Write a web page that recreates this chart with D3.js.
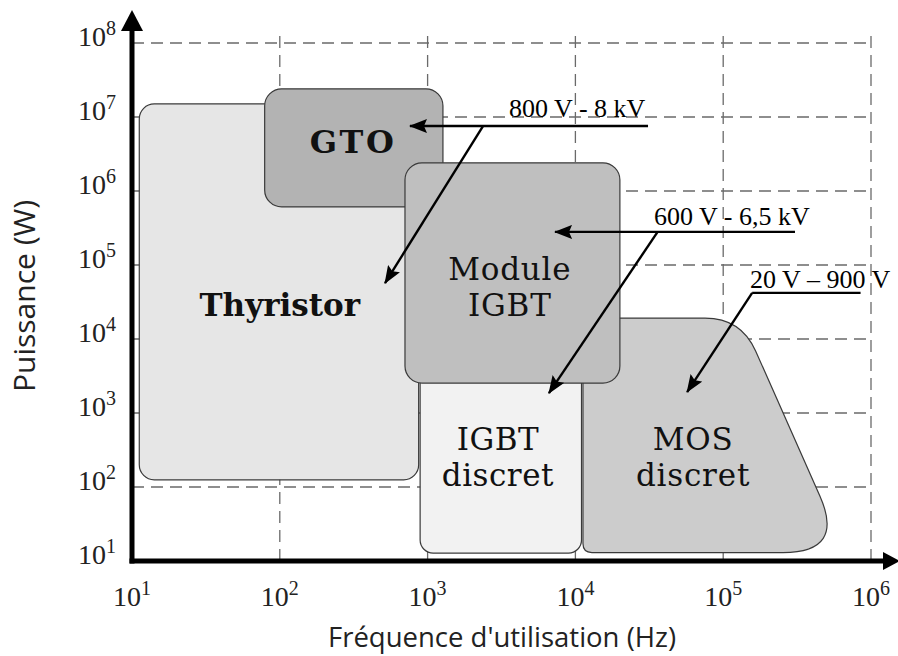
<!DOCTYPE html>
<html>
<head>
<meta charset="utf-8">
<script src="https://cdn.jsdelivr.net/npm/d3@7"></script>
<style>
  body { margin: 0; background: #fff; }
  svg { display: block; }
</style>
</head>
<body>
<svg id="chart"></svg>
<script>
/*
		 GLOBAL LAYOUT CONSTANTS
*/
var width = 898;
var height = 656;
var margin = {top: 43, right: 27, bottom: 95, left: 132};

var w = width - margin.left - margin.right;
var h = height - margin.top - margin.bottom;

/*
		 DATA
		 frequency in Hz, power in W
*/
var freqTicks = [1e1, 1e2, 1e3, 1e4, 1e5, 1e6];
var freqExp = ["1", "2", "3", "4", "5", "6"];
var powTicks = [1e1, 1e2, 1e3, 1e4, 1e5, 1e6, 1e7, 1e8];
var powExp = ["1", "2", "3", "4", "5", "6", "7", "8"];

// rounded boxes (Thyristor, GTO, IGBT discret, Module IGBT)
var boxNames = ["Thyristor", "GTO", "IGBT discret", "Module IGBT"];
var boxFreqLo = [11.2, 79, 890, 703];
var boxFreqHi = [870, 1270, 11000, 20000];
var boxPowLo = [125, 6.1e5, 12.8, 2540];
var boxPowHi = [1.5e7, 2.4e7, 4000, 2.4e6];

// MOS discret outline (corners)
var mosFreq = [11250, 132000, 667000, 11250];
var mosPow = [19200, 19200, 13, 13];

// region labels
var regionLines = [["Thyristor"], ["GTO"], ["IGBT", "discret"], ["Module", "IGBT"], ["MOS", "discret"]];
var regionLabelFreq = [100, 313, 2990, 3600, 62500];
var regionLabelPow = [2.05e4, 3.3e6, 320, 6.2e4, 320];

// voltage annotations
var voltLabels = ["800 V - 8 kV", "600 V - 6,5 kV", "20 V \u2013 900 V"];
var voltFreq = [3560, 34000, 152000];
var voltPow = [1e7, 3.5e5, 4.9e4];

// leader lines: start -> end (arrow head at end)
var leadFreq0 = [31000, 2370, 306000, 36000, 850000, 157000];
var leadPow0 = [7.55e6, 7.55e6, 2.8e5, 2.8e5, 4.2e4, 4.2e4];
var leadFreq1 = [760, 515, 7280, 6620, 157000, 57000];
var leadPow1 = [7.55e6, 5.7e4, 2.8e5, 1860, 4.2e4, 1920];
var leadHead = [true, true, true, true, false, true];

/*
		 SCALES
*/
var xScale = d3.scaleLog().domain([1e1, 1e6]).range([0, w]);
var yScale = d3.scaleLog().domain([1e1, 1e8]).range([h, 0]);

var serif = "'Liberation Serif', 'Times New Roman', serif";
var wideSerif = "'DejaVu Serif', serif";
var sans = "'Open Sans', 'DejaVu Sans', sans-serif";

var svg = d3.select("#chart")
    .attr("width", width)
    .attr("height", height);

var defs = svg.append("defs");
defs.append("marker")
    .attr("id", "head")
    .attr("markerUnits", "userSpaceOnUse")
    .attr("viewBox", "0 0 18 14")
    .attr("refX", 17)
    .attr("refY", 7)
    .attr("markerWidth", 18)
    .attr("markerHeight", 14)
    .attr("orient", "auto")
  .append("path")
    .attr("d", "M0,0 L18,7 L0,14 L3,7 Z")
    .attr("fill", "#000");

var chart = svg.append("g")
    .attr("transform", "translate(" + margin.left + "," + margin.top + ")");

/*
		 GRID
*/
var grid = chart.append("g").attr("class", "grid");

grid.selectAll(".vgrid")
    .data(freqTicks.slice(1))
  .enter().append("line")
    .attr("class", "vgrid")
    .attr("x1", function(d) { return xScale(d); })
    .attr("x2", function(d) { return xScale(d); })
    .attr("y1", yScale(1e1))
    .attr("y2", yScale(1e8) - 11)
    .attr("stroke", "#6a6a6a")
    .attr("stroke-width", 1.3)
    .attr("stroke-dasharray", "12,7");

grid.selectAll(".hgrid")
    .data(powTicks.slice(1))
  .enter().append("line")
    .attr("class", "hgrid")
    .attr("x1", xScale(1e1))
    .attr("x2", xScale(1e6))
    .attr("y1", function(d) { return yScale(d); })
    .attr("y2", function(d) { return yScale(d); })
    .attr("stroke", "#6a6a6a")
    .attr("stroke-width", 1.3)
    .attr("stroke-dasharray", "12,7");

/*
		 REGIONS
*/
var boxFill = ["#e6e6e6", "#b3b3b3", "#f2f2f2", "#bfbfbf"];
var boxRadius = [15, 17, 13, 17];

function drawBox(i) {
  chart.append("rect")
      .attr("x", xScale(boxFreqLo[i]))
      .attr("y", yScale(boxPowHi[i]))
      .attr("width", xScale(boxFreqHi[i]) - xScale(boxFreqLo[i]))
      .attr("height", yScale(boxPowLo[i]) - yScale(boxPowHi[i]))
      .attr("rx", boxRadius[i])
      .attr("fill", boxFill[i])
      .attr("stroke", "#3a3a3a")
      .attr("stroke-width", 1.2);
}

// polygon with rounded corners (quadratic at each vertex)
function roundedPath(pts, radii) {
  var n = pts.length;
  var path = d3.path();
  function cut(a, b, r) {
    var dx = b[0] - a[0], dy = b[1] - a[1];
    var len = Math.sqrt(dx * dx + dy * dy);
    return [a[0] + dx * r / len, a[1] + dy * r / len];
  }
  for (var i = 0; i < n; i++) {
    var prev = pts[(i - 1 + n) % n], cur = pts[i], next = pts[(i + 1) % n];
    var pin = cut(cur, prev, radii[i]);
    var pout = cut(cur, next, radii[i]);
    if (i == 0) path.moveTo(pin[0], pin[1]);
    else path.lineTo(pin[0], pin[1]);
    path.quadraticCurveTo(cur[0], cur[1], pout[0], pout[1]);
  }
  path.closePath();
  return path.toString();
}

drawBox(0);
drawBox(1);
drawBox(2);

var mosPts = mosFreq.map(function(f, i) { return [xScale(f), yScale(mosPow[i])]; });
chart.append("path")
    .attr("d", roundedPath(mosPts, [6, 36, 62, 9]))
    .attr("fill", "#cccccc")
    .attr("stroke", "#3a3a3a")
    .attr("stroke-width", 1.2);

drawBox(3);

/*
		 REGION LABELS
*/
var labelBold = [true, true, false, false, false];
var labelSize = [31, 32, 31, 31, 31];
var labelSpacing = [0, 2.5, 0.5, 0.8, 0.8];
regionLines.forEach(function(lines, i) {
  var t = chart.append("text")
      .attr("x", xScale(regionLabelFreq[i]))
      .attr("y", yScale(regionLabelPow[i]))
      .attr("text-anchor", "middle")
      .style("font-family", wideSerif)
      .style("font-size", labelSize[i] + "px")
      .style("font-weight", labelBold[i] ? "bold" : "normal")
      .style("letter-spacing", labelSpacing[i] + "px")
      .attr("fill", "#111");
  lines.forEach(function(s, j) {
    t.append("tspan")
        .attr("x", xScale(regionLabelFreq[i]))
        .attr("dy", j == 0 ? 0 : 36)
        .text(s);
  });
});

/*
		 VOLTAGE ANNOTATIONS
*/
leadFreq0.forEach(function(f, i) {
  var ln = chart.append("line")
      .attr("x1", xScale(f))
      .attr("y1", yScale(leadPow0[i]))
      .attr("x2", xScale(leadFreq1[i]))
      .attr("y2", yScale(leadPow1[i]))
      .attr("stroke", "#000")
      .attr("stroke-width", 2.4);
  if (leadHead[i]) ln.attr("marker-end", "url(#head)");
});

chart.selectAll(".volt")
    .data(voltLabels)
  .enter().append("text")
    .attr("class", "volt")
    .attr("x", function(d, i) { return xScale(voltFreq[i]); })
    .attr("y", function(d, i) { return yScale(voltPow[i]); })
    .style("font-family", serif)
    .style("font-size", "26px")
    .attr("fill", "#000")
    .text(function(d) { return d; });

/*
		 AXES
*/
var axes = chart.append("g").attr("class", "axes");

axes.append("line")
    .attr("x1", 0).attr("x2", 0)
    .attr("y1", h + 2.5).attr("y2", -14)
    .attr("stroke", "#000").attr("stroke-width", 5);
axes.append("path")
    .attr("d", "M0," + (-33) + " L11," + (-12) + " L-11," + (-12) + " Z")
    .attr("fill", "#000");

axes.append("line")
    .attr("x1", -2.5).attr("x2", width - margin.left - 14)
    .attr("y1", h).attr("y2", h)
    .attr("stroke", "#000").attr("stroke-width", 5);
axes.append("path")
    .attr("d", "M" + (width - margin.left + 2) + "," + h +
               " L" + (width - margin.left - 15) + "," + (h - 9) +
               " L" + (width - margin.left - 15) + "," + (h + 9) + " Z")
    .attr("fill", "#000");

// tick labels 10^n
var xl = axes.selectAll(".xlab")
    .data(freqTicks)
  .enter().append("text")
    .attr("class", "xlab")
    .attr("x", function(d) { return xScale(d); })
    .attr("y", h + 45)
    .attr("text-anchor", "middle")
    .style("font-family", serif)
    .style("font-size", "28px")
    .attr("fill", "#222");
xl.append("tspan").text("10");
xl.append("tspan")
    .attr("dy", -11)
    .style("font-size", "20px")
    .text(function(d, i) { return freqExp[i]; });

var yl = axes.selectAll(".ylab")
    .data(powTicks)
  .enter().append("text")
    .attr("class", "ylab")
    .attr("x", -16)
    .attr("y", function(d) { return yScale(d) + 3; })
    .attr("text-anchor", "end")
    .style("font-family", serif)
    .style("font-size", "28px")
    .attr("fill", "#222");
yl.append("tspan").text("10");
yl.append("tspan")
    .attr("dy", -11)
    .style("font-size", "20px")
    .text(function(d, i) { return powExp[i]; });

// axis titles
svg.append("text")
    .attr("x", 502)
    .attr("y", 647)
    .attr("text-anchor", "middle")
    .style("font-family", sans)
    .style("font-size", "27.5px")
    .attr("fill", "#222")
    .text("Fr\u00e9quence d'utilisation (Hz)");

svg.append("text")
    .attr("transform", "translate(35,296) rotate(-90)")
    .attr("text-anchor", "middle")
    .style("font-family", sans)
    .style("font-size", "30px")
    .attr("fill", "#222")
    .text("Puissance (W)");
</script>
</body>
</html>
